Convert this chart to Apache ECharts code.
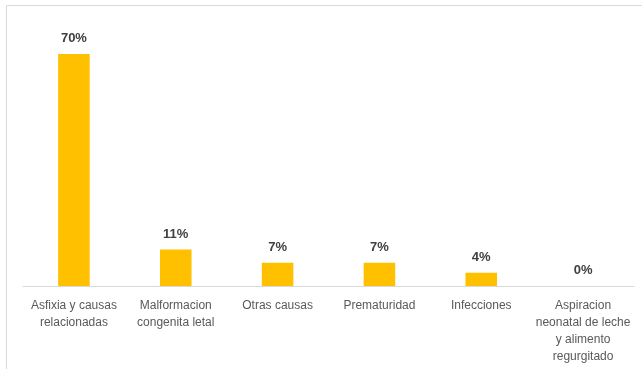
<!DOCTYPE html>
<html>
<head>
<meta charset="utf-8">
<script src="https://cdn.jsdelivr.net/npm/echarts@6/dist/echarts.min.js"></script>
<style>
    html, body { margin: 0; padding: 0; background: #fff; }
    #chart { width: 642px; height: 369px; }
</style>
</head>
<body>
<div id="chart"></div>
<script>
// causas de muerte neonatal, porcentaje
let categories = [
    'Asfixia y causas\nrelacionadas',
    'Malformacion\ncongenita letal',
    'Otras causas',
    'Prematuridad',
    'Infecciones',
    'Aspiracion\nneonatal de leche\ny alimento\nregurgitado'
];
let values = [70, 11, 7, 7, 4, 0];

let font = '"Liberation Sans Narrow", "Liberation Sans", sans-serif';
let chart = echarts.init(document.getElementById('chart'));
let option = {
    animation: false,
    graphic: [{
        type: 'rect',
        shape: { x: 6.5, y: 5.5, width: 700, height: 400 },
        style: { fill: 'none', stroke: '#d9d9d9', lineWidth: 1 },
        silent: true
    }],
    grid: {
        left: 23,
        right: 8,
        top: 54,
        bottom: 83
    },
    xAxis: {
        type: 'category',
        data: categories,
        axisLine: {
            lineStyle: { color: '#d9d9d9', width: 1 }
        },
        axisTick: { show: false },
        axisLabel: {
            interval: 0,
            margin: 11,
            color: '#595959',
            fontSize: 12,
            lineHeight: 17,
            fontFamily: font
        }
    },
    yAxis: {
        type: 'value',
        min: 0,
        max: 70,
        show: false,
        splitLine: { show: false }
    },
    series: [{
        type: 'bar',
        data: values,
        barWidth: '31%',
        itemStyle: { color: '#ffc000' },
        label: {
            show: true,
            position: 'top',
            distance: 9,
            formatter: '{c}%',
            color: '#404040',
            fontWeight: 'bold',
            fontSize: 13,
            fontFamily: font
        }
    }]
};
chart.setOption(option);
</script>
</body>
</html>
